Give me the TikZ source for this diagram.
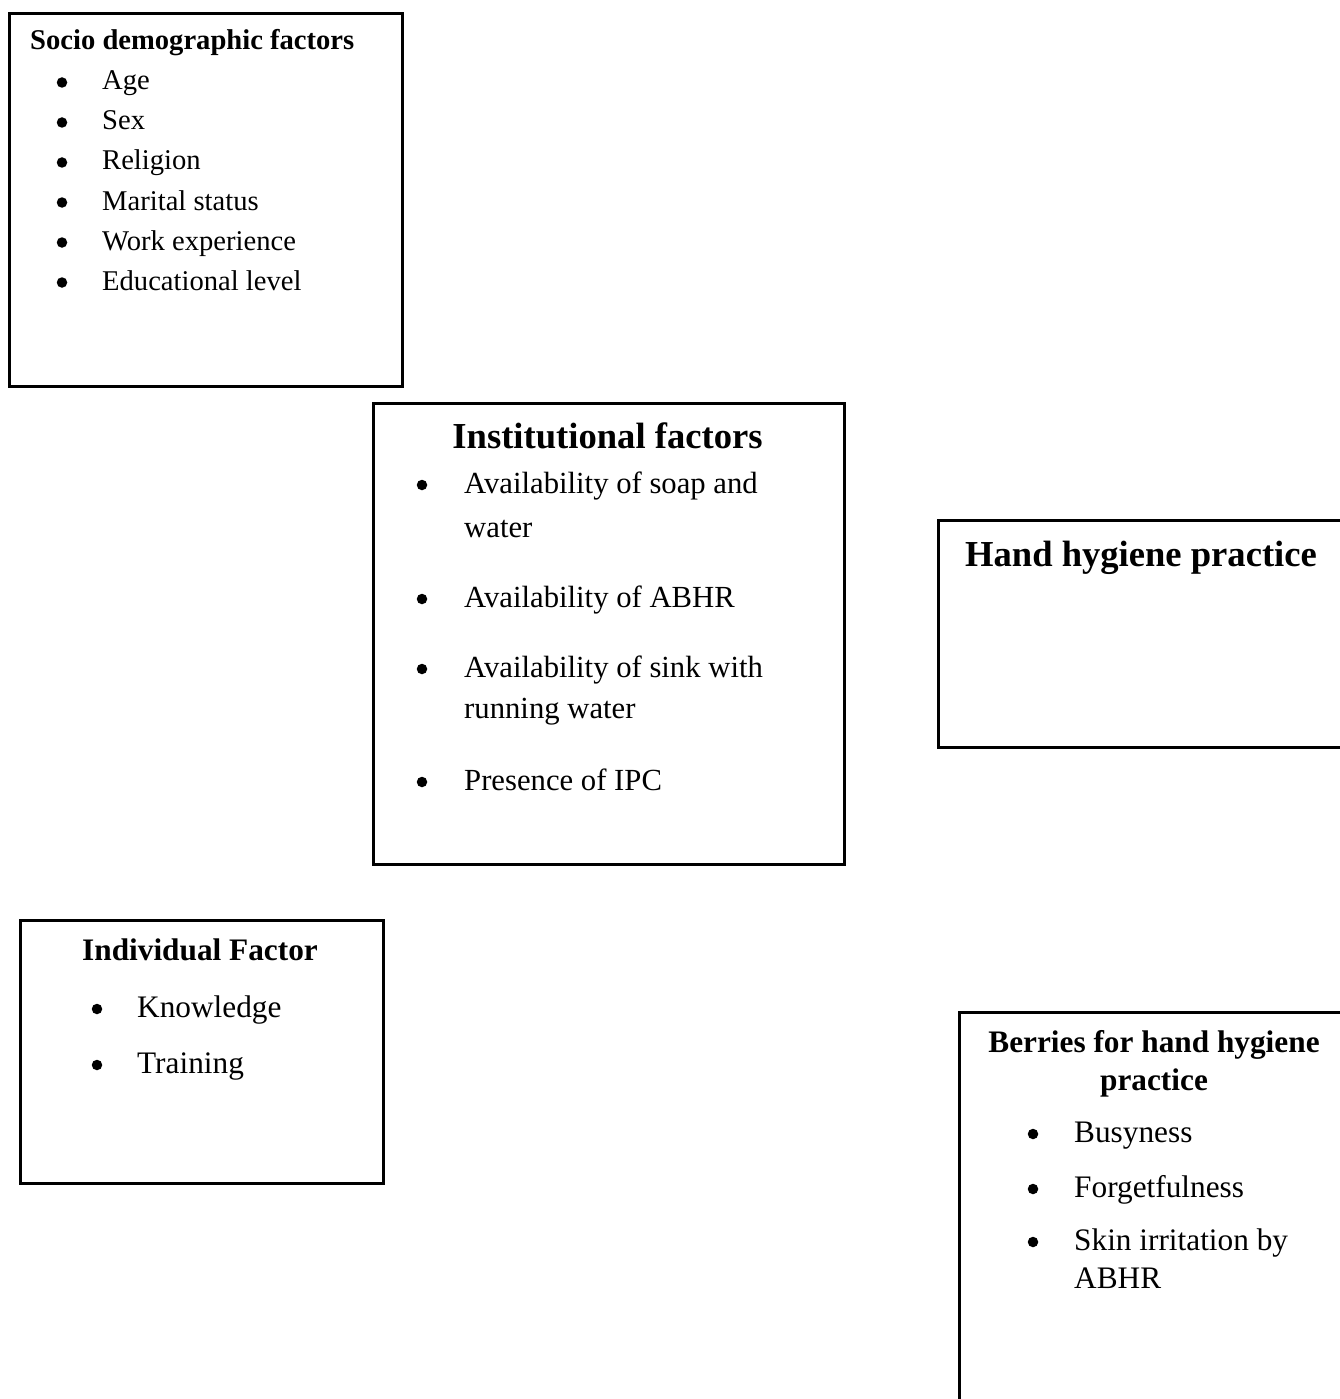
\documentclass[tikz,border=0pt]{standalone}
\usepackage{fontspec}
\setmainfont{Liberation Serif}
\newcommand\fszS{\fontsize{28.6pt}{34pt}\selectfont}
\newcommand\fszI{\fontsize{30.7pt}{37pt}\selectfont}
\newcommand\fszC{\fontsize{31.3pt}{38pt}\selectfont}
\newcommand\fszT{\fontsize{36.6pt}{44pt}\selectfont\bfseries}
\begin{document}
\begin{tikzpicture}[x=1pt,y=-1pt,
  box/.style={draw, line width=2.9pt, rectangle, anchor=north west, inner sep=0pt},
  txt/.style={inner sep=0pt, anchor=base west},
  ctr/.style={inner sep=0pt, anchor=base},
  dot/.style={circle, fill, draw=none, inner sep=0pt, minimum size=10.5pt}]
\useasboundingbox (0,0) rectangle (1340,1399);
\clip (0,0) rectangle (1340,1399);
% boxes
\node[box, minimum width=393pt, minimum height=373pt] (socio) at (8,12) {};
\node[box, minimum width=471pt, minimum height=461pt] (inst) at (372,402) {};
\node[box, minimum width=408pt, minimum height=227pt] (hand) at (937,519) {};
\node[box, minimum width=363pt, minimum height=263pt] (indiv) at (19,919) {};
\node[box, minimum width=392pt, minimum height=420pt] (berr) at (958,1011) {};
% socio demographic
\node[txt, font=\fszS\bfseries] (sT) at (30,50) {Socio demographic factors};
\foreach \t/\y [count=\i] in {Age/90, Sex/130, Religion/170, Marital status/210, Work experience/250, Educational level/290}{
  \node[dot] (sb\i) at (62,\y-7.5) {};
  \node[txt, font=\fszS] (si\i) at (102,\y) {\t};
}
% institutional
\node[ctr, font=\fszT] (iT) at (607.5,448) {Institutional factors};
\node[dot] (ib1) at (422,485) {};
\node[txt, font=\fszI] (ia1) at (464,493) {Availability of soap and};
\node[txt, font=\fszI] (ia2) at (464,537) {water};
\node[dot] (ib2) at (422,599) {};
\node[txt, font=\fszI] (ib) at (464,607) {Availability of ABHR};
\node[dot] (ib3) at (422,669) {};
\node[txt, font=\fszI] (ic1) at (464,677) {Availability of sink with};
\node[txt, font=\fszI] (ic2) at (464,718) {running water};
\node[dot] (ib4) at (422,782) {};
\node[txt, font=\fszI] (id) at (464,790) {Presence of IPC};
% hand hygiene
\node[ctr, font=\fszT] (hT) at (1141,566) {Hand hygiene practice};
% individual
\node[ctr, font=\fszC\bfseries] (nT) at (200,960) {Individual Factor};
\node[dot] (nb1) at (97,1009) {};
\node[txt, font=\fszC] (n1) at (137,1017) {Knowledge};
\node[dot] (nb2) at (97,1065) {};
\node[txt, font=\fszC] (n2) at (137,1073) {Training};
% berries
\node[ctr, font=\fszC\bfseries] (bT1) at (1154,1052) {Berries for hand hygiene};
\node[ctr, font=\fszC\bfseries] (bT2) at (1154,1090) {practice};
\node[dot] (bb1) at (1033,1134) {};
\node[txt, font=\fszC] (b1) at (1074,1142) {Busyness};
\node[dot] (bb2) at (1033,1189) {};
\node[txt, font=\fszC] (b2) at (1074,1197) {Forgetfulness};
\node[dot] (bb3) at (1033,1242) {};
\node[txt, font=\fszC] (b3a) at (1074,1250) {Skin irritation by};
\node[txt, font=\fszC] (b3b) at (1074,1288) {ABHR};
\end{tikzpicture}
\end{document}
